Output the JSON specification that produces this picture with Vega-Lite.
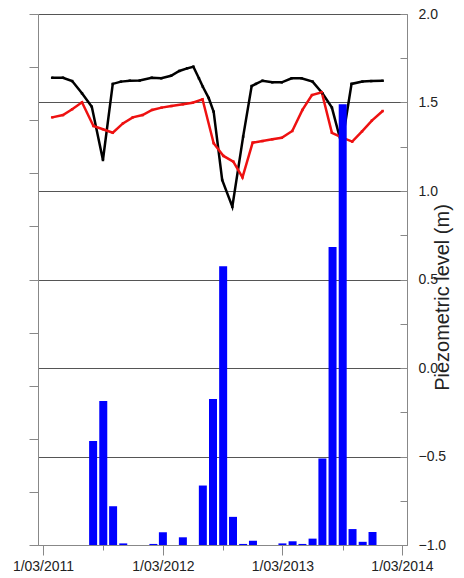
{
  "$schema": "https://vega.github.io/schema/vega-lite/v6.json",
  "autosize": {"type": "none"},
  "padding": {"left": 38, "top": 14, "right": 57, "bottom": 33},
  "width": 369,
  "height": 531,
  "config": {
    "view": {"stroke": null},
    "axis": {"labelFont": "Liberation Sans", "titleFont": "Liberation Sans", "labelColor": "#222", "titleColor": "#222", "domainColor": "#888", "tickColor": "#888", "labelFontSize": 14}
  },
  "datasets": {
    "piezo": [
      {"date": "2011-03-29T00:00:00", "series": "A", "level": 1.640},
      {"date": "2011-05-01T00:00:00", "series": "A", "level": 1.640},
      {"date": "2011-05-29T00:00:00", "series": "A", "level": 1.621},
      {"date": "2011-06-28T00:00:00", "series": "A", "level": 1.552},
      {"date": "2011-07-28T00:00:00", "series": "A", "level": 1.476},
      {"date": "2011-08-31T00:00:00", "series": "A", "level": 1.175},
      {"date": "2011-09-30T00:00:00", "series": "A", "level": 1.605},
      {"date": "2011-10-25T00:00:00", "series": "A", "level": 1.618},
      {"date": "2011-11-21T00:00:00", "series": "A", "level": 1.623},
      {"date": "2011-12-21T00:00:00", "series": "A", "level": 1.624},
      {"date": "2012-01-27T00:00:00", "series": "A", "level": 1.640},
      {"date": "2012-02-25T00:00:00", "series": "A", "level": 1.637},
      {"date": "2012-03-26T00:00:00", "series": "A", "level": 1.651},
      {"date": "2012-04-20T00:00:00", "series": "A", "level": 1.678},
      {"date": "2012-05-14T00:00:00", "series": "A", "level": 1.693},
      {"date": "2012-06-02T00:00:00", "series": "A", "level": 1.702},
      {"date": "2012-06-19T00:00:00", "series": "A", "level": 1.637},
      {"date": "2012-07-01T00:00:00", "series": "A", "level": 1.589},
      {"date": "2012-07-19T00:00:00", "series": "A", "level": 1.525},
      {"date": "2012-08-03T00:00:00", "series": "A", "level": 1.448},
      {"date": "2012-08-29T00:00:00", "series": "A", "level": 1.062},
      {"date": "2012-09-29T00:00:00", "series": "A", "level": 0.911},
      {"date": "2012-11-01T00:00:00", "series": "A", "level": 1.307},
      {"date": "2012-11-27T00:00:00", "series": "A", "level": 1.593},
      {"date": "2012-12-10T00:00:00", "series": "A", "level": 1.605},
      {"date": "2012-12-30T00:00:00", "series": "A", "level": 1.623},
      {"date": "2013-01-29T00:00:00", "series": "A", "level": 1.614},
      {"date": "2013-02-27T00:00:00", "series": "A", "level": 1.614},
      {"date": "2013-03-29T00:00:00", "series": "A", "level": 1.637},
      {"date": "2013-04-28T00:00:00", "series": "A", "level": 1.637},
      {"date": "2013-06-01T00:00:00", "series": "A", "level": 1.618},
      {"date": "2013-07-01T00:00:00", "series": "A", "level": 1.552},
      {"date": "2013-07-30T00:00:00", "series": "A", "level": 1.471},
      {"date": "2013-08-29T00:00:00", "series": "A", "level": 1.260},
      {"date": "2013-09-28T00:00:00", "series": "A", "level": 1.605},
      {"date": "2013-10-31T00:00:00", "series": "A", "level": 1.618},
      {"date": "2013-11-27T00:00:00", "series": "A", "level": 1.621},
      {"date": "2014-01-01T00:00:00", "series": "A", "level": 1.623},
      {"date": "2011-03-29T00:00:00", "series": "B", "level": 1.416},
      {"date": "2011-05-01T00:00:00", "series": "B", "level": 1.429},
      {"date": "2011-05-29T00:00:00", "series": "B", "level": 1.462},
      {"date": "2011-06-28T00:00:00", "series": "B", "level": 1.501},
      {"date": "2011-08-02T00:00:00", "series": "B", "level": 1.367},
      {"date": "2011-08-31T00:00:00", "series": "B", "level": 1.349},
      {"date": "2011-09-30T00:00:00", "series": "B", "level": 1.329},
      {"date": "2011-10-31T00:00:00", "series": "B", "level": 1.382},
      {"date": "2011-11-30T00:00:00", "series": "B", "level": 1.416},
      {"date": "2011-12-30T00:00:00", "series": "B", "level": 1.429},
      {"date": "2012-01-28T00:00:00", "series": "B", "level": 1.458},
      {"date": "2012-02-26T00:00:00", "series": "B", "level": 1.471},
      {"date": "2012-03-27T00:00:00", "series": "B", "level": 1.480},
      {"date": "2012-05-01T00:00:00", "series": "B", "level": 1.490},
      {"date": "2012-05-31T00:00:00", "series": "B", "level": 1.499},
      {"date": "2012-06-30T00:00:00", "series": "B", "level": 1.518},
      {"date": "2012-08-03T00:00:00", "series": "B", "level": 1.270},
      {"date": "2012-09-02T00:00:00", "series": "B", "level": 1.198},
      {"date": "2012-10-02T00:00:00", "series": "B", "level": 1.166},
      {"date": "2012-10-30T00:00:00", "series": "B", "level": 1.077},
      {"date": "2012-11-30T00:00:00", "series": "B", "level": 1.273},
      {"date": "2012-12-30T00:00:00", "series": "B", "level": 1.282},
      {"date": "2013-01-29T00:00:00", "series": "B", "level": 1.292},
      {"date": "2013-02-27T00:00:00", "series": "B", "level": 1.301},
      {"date": "2013-03-31T00:00:00", "series": "B", "level": 1.339},
      {"date": "2013-05-01T00:00:00", "series": "B", "level": 1.458},
      {"date": "2013-05-30T00:00:00", "series": "B", "level": 1.542},
      {"date": "2013-06-29T00:00:00", "series": "B", "level": 1.558},
      {"date": "2013-07-30T00:00:00", "series": "B", "level": 1.329},
      {"date": "2013-08-29T00:00:00", "series": "B", "level": 1.303},
      {"date": "2013-09-30T00:00:00", "series": "B", "level": 1.279},
      {"date": "2013-10-30T00:00:00", "series": "B", "level": 1.337},
      {"date": "2013-11-29T00:00:00", "series": "B", "level": 1.398},
      {"date": "2014-01-01T00:00:00", "series": "B", "level": 1.452}
    ],
    "rain": [
      {"month": "2011-08-01T00:00:00", "rain": 1.96},
      {"month": "2011-09-01T00:00:00", "rain": 2.71},
      {"month": "2011-10-01T00:00:00", "rain": 0.73},
      {"month": "2011-11-01T00:00:00", "rain": 0.03},
      {"month": "2012-02-01T00:00:00", "rain": 0.02},
      {"month": "2012-03-01T00:00:00", "rain": 0.24},
      {"month": "2012-05-01T00:00:00", "rain": 0.145},
      {"month": "2012-07-01T00:00:00", "rain": 1.12},
      {"month": "2012-08-01T00:00:00", "rain": 2.75},
      {"month": "2012-09-01T00:00:00", "rain": 5.25},
      {"month": "2012-10-01T00:00:00", "rain": 0.53},
      {"month": "2012-11-01T00:00:00", "rain": 0.02},
      {"month": "2012-12-01T00:00:00", "rain": 0.08},
      {"month": "2013-03-01T00:00:00", "rain": 0.03},
      {"month": "2013-04-01T00:00:00", "rain": 0.07},
      {"month": "2013-05-01T00:00:00", "rain": 0.02},
      {"month": "2013-06-01T00:00:00", "rain": 0.12},
      {"month": "2013-07-01T00:00:00", "rain": 1.63},
      {"month": "2013-08-01T00:00:00", "rain": 5.61},
      {"month": "2013-09-01T00:00:00", "rain": 8.3},
      {"month": "2013-10-01T00:00:00", "rain": 0.30},
      {"month": "2013-11-01T00:00:00", "rain": 0.06},
      {"month": "2013-12-01T00:00:00", "rain": 0.245}
    ]
  },
  "layer": [
    {
      "data": {"name": "piezo"},
      "mark": {"type": "line", "strokeWidth": 2.5, "point": {"shape": "square", "size": 6, "filled": true}},
      "encoding": {
        "x": {
          "field": "date", "type": "temporal",
          "scale": {"domain": [{"year": 2011, "month": 3, "date": 1}, {"year": 2014, "month": 3, "date": 1}]},
          "axis": {
            "title": null, "grid": false,
            "values": [
              {"year": 2011, "month": 3, "date": 1}, {"year": 2011, "month": 9, "date": 1},
              {"year": 2012, "month": 3, "date": 1}, {"year": 2012, "month": 9, "date": 1},
              {"year": 2013, "month": 3, "date": 1}, {"year": 2013, "month": 9, "date": 1},
              {"year": 2014, "month": 3, "date": 1}
            ],
            "labelExpr": "month(datum.value) == 2 ? timeFormat(datum.value, '%-d/%m/%Y') : ''",
            "tickSize": {"expr": "month(datum.value) == 2 ? 10 : 5"},
            "labelPadding": 4,
            "labelFlush": false,
            "labelOverlap": false
          }
        },
        "y": {
          "field": "level", "type": "quantitative",
          "scale": {"domain": [-1, 2], "nice": false, "zero": false},
          "axis": {
            "orient": "right", "title": "Piezometric level (m)",
            "titleFontSize": 20, "titleFontWeight": "normal",
            "titleAngle": 270, "titleBaseline": "bottom", "titleAlign": "center",
            "titleX": 45, "titleY": 283,
            "values": [-1, -0.75, -0.5, -0.25, 0, 0.25, 0.5, 0.75, 1, 1.25, 1.5, 1.75, 2],
            "labelExpr": "abs(datum.value * 2 - round(datum.value * 2)) < 0.001 ? format(datum.value, '.1f') : ''",
            "grid": true, "gridColor": "#555",
            "gridOpacity": {"expr": "abs(datum.value * 2 - round(datum.value * 2)) < 0.001 ? 1 : 0"},
            "tickSize": -7, "labelPadding": 18, "labelFlush": false
          }
        },
        "color": {
          "field": "series", "type": "nominal",
          "scale": {"domain": ["A", "B"], "range": ["#000000", "#ee1111"]},
          "legend": null
        }
      }
    },
    {
      "data": {"name": "rain"},
      "mark": {"type": "bar", "size": 8, "color": "#0000ff"},
      "encoding": {
        "x": {"field": "month", "type": "temporal"},
        "y": {
          "field": "rain", "type": "quantitative",
          "scale": {"domain": [0, 10], "nice": false},
          "axis": {"orient": "left", "title": null, "labels": false, "grid": false, "values": [0,1,2,3,4,5,6,7,8,9,10], "tickSize": 9}
        }
      }
    }
  ],
  "resolve": {"scale": {"y": "independent"}}
}
